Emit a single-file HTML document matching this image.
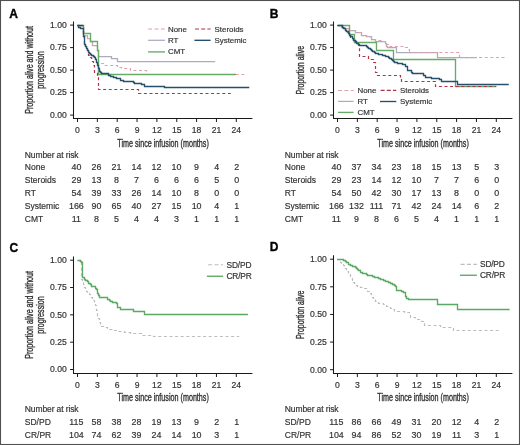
<!DOCTYPE html>
<html><head><meta charset="utf-8"><title>Figure</title>
<style>html,body{margin:0;padding:0;background:#fff;}svg{display:block;will-change:transform;}</style>
</head><body>

<svg width="520" height="445" viewBox="0 0 520 445" font-family='"Liberation Sans", sans-serif'>
<rect x="0" y="0" width="520" height="445" fill="#fff"/>
<text x="9.30" y="17.60" font-size="12" text-anchor="start" fill="#000" font-weight="bold" stroke="#000" stroke-width="0.35">A</text>
<text x="269.80" y="17.50" font-size="12" text-anchor="start" fill="#000" font-weight="bold" stroke="#000" stroke-width="0.35">B</text>
<text x="9.40" y="252.30" font-size="12" text-anchor="start" fill="#000" font-weight="bold" stroke="#000" stroke-width="0.35">C</text>
<text x="269.80" y="251.30" font-size="12" text-anchor="start" fill="#000" font-weight="bold" stroke="#000" stroke-width="0.35">D</text>
<path d="M73.50,21.50V118.50H252.40" fill="none" stroke="#1a1a1a" stroke-width="1.05"/>
<line x1="70.10" y1="25.10" x2="73.50" y2="25.10" stroke="#1a1a1a" stroke-width="1"/>
<text x="66.80" y="27.90" font-size="8.6" text-anchor="end" fill="#333" font-weight="normal" stroke="#333" stroke-width="0.18">1.00</text>
<line x1="70.10" y1="47.60" x2="73.50" y2="47.60" stroke="#1a1a1a" stroke-width="1"/>
<text x="66.80" y="50.40" font-size="8.6" text-anchor="end" fill="#333" font-weight="normal" stroke="#333" stroke-width="0.18">0.75</text>
<line x1="70.10" y1="70.10" x2="73.50" y2="70.10" stroke="#1a1a1a" stroke-width="1"/>
<text x="66.80" y="72.90" font-size="8.6" text-anchor="end" fill="#333" font-weight="normal" stroke="#333" stroke-width="0.18">0.50</text>
<line x1="70.10" y1="92.60" x2="73.50" y2="92.60" stroke="#1a1a1a" stroke-width="1"/>
<text x="66.80" y="95.40" font-size="8.6" text-anchor="end" fill="#333" font-weight="normal" stroke="#333" stroke-width="0.18">0.25</text>
<line x1="70.10" y1="115.10" x2="73.50" y2="115.10" stroke="#1a1a1a" stroke-width="1"/>
<text x="66.80" y="117.90" font-size="8.6" text-anchor="end" fill="#333" font-weight="normal" stroke="#333" stroke-width="0.18">0.00</text>
<line x1="77.50" y1="118.50" x2="77.50" y2="122.00" stroke="#1a1a1a" stroke-width="1"/>
<text x="77.50" y="132.60" font-size="8.6" text-anchor="middle" fill="#333" font-weight="normal" stroke="#333" stroke-width="0.18">0</text>
<line x1="97.35" y1="118.50" x2="97.35" y2="122.00" stroke="#1a1a1a" stroke-width="1"/>
<text x="97.35" y="132.60" font-size="8.6" text-anchor="middle" fill="#333" font-weight="normal" stroke="#333" stroke-width="0.18">3</text>
<line x1="117.20" y1="118.50" x2="117.20" y2="122.00" stroke="#1a1a1a" stroke-width="1"/>
<text x="117.20" y="132.60" font-size="8.6" text-anchor="middle" fill="#333" font-weight="normal" stroke="#333" stroke-width="0.18">6</text>
<line x1="137.05" y1="118.50" x2="137.05" y2="122.00" stroke="#1a1a1a" stroke-width="1"/>
<text x="137.05" y="132.60" font-size="8.6" text-anchor="middle" fill="#333" font-weight="normal" stroke="#333" stroke-width="0.18">9</text>
<line x1="156.90" y1="118.50" x2="156.90" y2="122.00" stroke="#1a1a1a" stroke-width="1"/>
<text x="156.90" y="132.60" font-size="8.6" text-anchor="middle" fill="#333" font-weight="normal" stroke="#333" stroke-width="0.18">12</text>
<line x1="176.75" y1="118.50" x2="176.75" y2="122.00" stroke="#1a1a1a" stroke-width="1"/>
<text x="176.75" y="132.60" font-size="8.6" text-anchor="middle" fill="#333" font-weight="normal" stroke="#333" stroke-width="0.18">15</text>
<line x1="196.60" y1="118.50" x2="196.60" y2="122.00" stroke="#1a1a1a" stroke-width="1"/>
<text x="196.60" y="132.60" font-size="8.6" text-anchor="middle" fill="#333" font-weight="normal" stroke="#333" stroke-width="0.18">18</text>
<line x1="216.45" y1="118.50" x2="216.45" y2="122.00" stroke="#1a1a1a" stroke-width="1"/>
<text x="216.45" y="132.60" font-size="8.6" text-anchor="middle" fill="#333" font-weight="normal" stroke="#333" stroke-width="0.18">21</text>
<line x1="236.30" y1="118.50" x2="236.30" y2="122.00" stroke="#1a1a1a" stroke-width="1"/>
<text x="236.30" y="132.60" font-size="8.6" text-anchor="middle" fill="#333" font-weight="normal" stroke="#333" stroke-width="0.18">24</text>
<text x="163.10" y="146.60" font-size="10.1" text-anchor="middle" fill="#333" font-weight="normal" stroke="#333" stroke-width="0.35" textLength="91.5" lengthAdjust="spacingAndGlyphs">Time since infusion (months)</text>
<text transform="translate(32.80,69.90) rotate(-90)" x="0" y="0" font-size="10.1" text-anchor="middle" fill="#333" stroke="#333" stroke-width="0.35" textLength="87.8" lengthAdjust="spacingAndGlyphs">Proportion alive and without</text>
<text transform="translate(44.30,69.90) rotate(-90)" x="0" y="0" font-size="10.1" text-anchor="middle" fill="#333" stroke="#333" stroke-width="0.35" textLength="37.5" lengthAdjust="spacingAndGlyphs">progression</text>
<path d="M333.50,21.50V118.50H512.40" fill="none" stroke="#1a1a1a" stroke-width="1.05"/>
<line x1="330.10" y1="25.10" x2="333.50" y2="25.10" stroke="#1a1a1a" stroke-width="1"/>
<text x="326.80" y="27.90" font-size="8.6" text-anchor="end" fill="#333" font-weight="normal" stroke="#333" stroke-width="0.18">1.00</text>
<line x1="330.10" y1="47.60" x2="333.50" y2="47.60" stroke="#1a1a1a" stroke-width="1"/>
<text x="326.80" y="50.40" font-size="8.6" text-anchor="end" fill="#333" font-weight="normal" stroke="#333" stroke-width="0.18">0.75</text>
<line x1="330.10" y1="70.10" x2="333.50" y2="70.10" stroke="#1a1a1a" stroke-width="1"/>
<text x="326.80" y="72.90" font-size="8.6" text-anchor="end" fill="#333" font-weight="normal" stroke="#333" stroke-width="0.18">0.50</text>
<line x1="330.10" y1="92.60" x2="333.50" y2="92.60" stroke="#1a1a1a" stroke-width="1"/>
<text x="326.80" y="95.40" font-size="8.6" text-anchor="end" fill="#333" font-weight="normal" stroke="#333" stroke-width="0.18">0.25</text>
<line x1="330.10" y1="115.10" x2="333.50" y2="115.10" stroke="#1a1a1a" stroke-width="1"/>
<text x="326.80" y="117.90" font-size="8.6" text-anchor="end" fill="#333" font-weight="normal" stroke="#333" stroke-width="0.18">0.00</text>
<line x1="337.50" y1="118.50" x2="337.50" y2="122.00" stroke="#1a1a1a" stroke-width="1"/>
<text x="337.50" y="132.60" font-size="8.6" text-anchor="middle" fill="#333" font-weight="normal" stroke="#333" stroke-width="0.18">0</text>
<line x1="357.35" y1="118.50" x2="357.35" y2="122.00" stroke="#1a1a1a" stroke-width="1"/>
<text x="357.35" y="132.60" font-size="8.6" text-anchor="middle" fill="#333" font-weight="normal" stroke="#333" stroke-width="0.18">3</text>
<line x1="377.20" y1="118.50" x2="377.20" y2="122.00" stroke="#1a1a1a" stroke-width="1"/>
<text x="377.20" y="132.60" font-size="8.6" text-anchor="middle" fill="#333" font-weight="normal" stroke="#333" stroke-width="0.18">6</text>
<line x1="397.05" y1="118.50" x2="397.05" y2="122.00" stroke="#1a1a1a" stroke-width="1"/>
<text x="397.05" y="132.60" font-size="8.6" text-anchor="middle" fill="#333" font-weight="normal" stroke="#333" stroke-width="0.18">9</text>
<line x1="416.90" y1="118.50" x2="416.90" y2="122.00" stroke="#1a1a1a" stroke-width="1"/>
<text x="416.90" y="132.60" font-size="8.6" text-anchor="middle" fill="#333" font-weight="normal" stroke="#333" stroke-width="0.18">12</text>
<line x1="436.75" y1="118.50" x2="436.75" y2="122.00" stroke="#1a1a1a" stroke-width="1"/>
<text x="436.75" y="132.60" font-size="8.6" text-anchor="middle" fill="#333" font-weight="normal" stroke="#333" stroke-width="0.18">15</text>
<line x1="456.60" y1="118.50" x2="456.60" y2="122.00" stroke="#1a1a1a" stroke-width="1"/>
<text x="456.60" y="132.60" font-size="8.6" text-anchor="middle" fill="#333" font-weight="normal" stroke="#333" stroke-width="0.18">18</text>
<line x1="476.45" y1="118.50" x2="476.45" y2="122.00" stroke="#1a1a1a" stroke-width="1"/>
<text x="476.45" y="132.60" font-size="8.6" text-anchor="middle" fill="#333" font-weight="normal" stroke="#333" stroke-width="0.18">21</text>
<line x1="496.30" y1="118.50" x2="496.30" y2="122.00" stroke="#1a1a1a" stroke-width="1"/>
<text x="496.30" y="132.60" font-size="8.6" text-anchor="middle" fill="#333" font-weight="normal" stroke="#333" stroke-width="0.18">24</text>
<text x="423.10" y="146.60" font-size="10.1" text-anchor="middle" fill="#333" font-weight="normal" stroke="#333" stroke-width="0.35" textLength="91.5" lengthAdjust="spacingAndGlyphs">Time since infusion (months)</text>
<text transform="translate(303.90,70.20) rotate(-90)" x="0" y="0" font-size="10.1" text-anchor="middle" fill="#333" stroke="#333" stroke-width="0.35" textLength="48.5" lengthAdjust="spacingAndGlyphs">Proportion alive</text>
<path d="M73.50,256.50V373.50H252.40" fill="none" stroke="#1a1a1a" stroke-width="1.05"/>
<line x1="70.10" y1="260.20" x2="73.50" y2="260.20" stroke="#1a1a1a" stroke-width="1"/>
<text x="66.80" y="263.00" font-size="8.6" text-anchor="end" fill="#333" font-weight="normal" stroke="#333" stroke-width="0.18">1.00</text>
<line x1="70.10" y1="287.52" x2="73.50" y2="287.52" stroke="#1a1a1a" stroke-width="1"/>
<text x="66.80" y="290.32" font-size="8.6" text-anchor="end" fill="#333" font-weight="normal" stroke="#333" stroke-width="0.18">0.75</text>
<line x1="70.10" y1="314.85" x2="73.50" y2="314.85" stroke="#1a1a1a" stroke-width="1"/>
<text x="66.80" y="317.65" font-size="8.6" text-anchor="end" fill="#333" font-weight="normal" stroke="#333" stroke-width="0.18">0.50</text>
<line x1="70.10" y1="342.18" x2="73.50" y2="342.18" stroke="#1a1a1a" stroke-width="1"/>
<text x="66.80" y="344.98" font-size="8.6" text-anchor="end" fill="#333" font-weight="normal" stroke="#333" stroke-width="0.18">0.25</text>
<line x1="70.10" y1="369.50" x2="73.50" y2="369.50" stroke="#1a1a1a" stroke-width="1"/>
<text x="66.80" y="372.30" font-size="8.6" text-anchor="end" fill="#333" font-weight="normal" stroke="#333" stroke-width="0.18">0.00</text>
<line x1="77.50" y1="373.50" x2="77.50" y2="377.00" stroke="#1a1a1a" stroke-width="1"/>
<text x="77.50" y="387.80" font-size="8.6" text-anchor="middle" fill="#333" font-weight="normal" stroke="#333" stroke-width="0.18">0</text>
<line x1="97.35" y1="373.50" x2="97.35" y2="377.00" stroke="#1a1a1a" stroke-width="1"/>
<text x="97.35" y="387.80" font-size="8.6" text-anchor="middle" fill="#333" font-weight="normal" stroke="#333" stroke-width="0.18">3</text>
<line x1="117.20" y1="373.50" x2="117.20" y2="377.00" stroke="#1a1a1a" stroke-width="1"/>
<text x="117.20" y="387.80" font-size="8.6" text-anchor="middle" fill="#333" font-weight="normal" stroke="#333" stroke-width="0.18">6</text>
<line x1="137.05" y1="373.50" x2="137.05" y2="377.00" stroke="#1a1a1a" stroke-width="1"/>
<text x="137.05" y="387.80" font-size="8.6" text-anchor="middle" fill="#333" font-weight="normal" stroke="#333" stroke-width="0.18">9</text>
<line x1="156.90" y1="373.50" x2="156.90" y2="377.00" stroke="#1a1a1a" stroke-width="1"/>
<text x="156.90" y="387.80" font-size="8.6" text-anchor="middle" fill="#333" font-weight="normal" stroke="#333" stroke-width="0.18">12</text>
<line x1="176.75" y1="373.50" x2="176.75" y2="377.00" stroke="#1a1a1a" stroke-width="1"/>
<text x="176.75" y="387.80" font-size="8.6" text-anchor="middle" fill="#333" font-weight="normal" stroke="#333" stroke-width="0.18">15</text>
<line x1="196.60" y1="373.50" x2="196.60" y2="377.00" stroke="#1a1a1a" stroke-width="1"/>
<text x="196.60" y="387.80" font-size="8.6" text-anchor="middle" fill="#333" font-weight="normal" stroke="#333" stroke-width="0.18">18</text>
<line x1="216.45" y1="373.50" x2="216.45" y2="377.00" stroke="#1a1a1a" stroke-width="1"/>
<text x="216.45" y="387.80" font-size="8.6" text-anchor="middle" fill="#333" font-weight="normal" stroke="#333" stroke-width="0.18">21</text>
<line x1="236.30" y1="373.50" x2="236.30" y2="377.00" stroke="#1a1a1a" stroke-width="1"/>
<text x="236.30" y="387.80" font-size="8.6" text-anchor="middle" fill="#333" font-weight="normal" stroke="#333" stroke-width="0.18">24</text>
<text x="163.10" y="401.20" font-size="10.1" text-anchor="middle" fill="#333" font-weight="normal" stroke="#333" stroke-width="0.35" textLength="91.5" lengthAdjust="spacingAndGlyphs">Time since infusion (months)</text>
<text transform="translate(32.80,314.90) rotate(-90)" x="0" y="0" font-size="10.1" text-anchor="middle" fill="#333" stroke="#333" stroke-width="0.35" textLength="87.8" lengthAdjust="spacingAndGlyphs">Proportion alive and without</text>
<text transform="translate(44.30,314.90) rotate(-90)" x="0" y="0" font-size="10.1" text-anchor="middle" fill="#333" stroke="#333" stroke-width="0.35" textLength="37.5" lengthAdjust="spacingAndGlyphs">progression</text>
<path d="M333.50,255.20V373.50H512.40" fill="none" stroke="#1a1a1a" stroke-width="1.05"/>
<line x1="330.10" y1="259.20" x2="333.50" y2="259.20" stroke="#1a1a1a" stroke-width="1"/>
<text x="326.80" y="262.00" font-size="8.6" text-anchor="end" fill="#333" font-weight="normal" stroke="#333" stroke-width="0.18">1.00</text>
<line x1="330.10" y1="286.82" x2="333.50" y2="286.82" stroke="#1a1a1a" stroke-width="1"/>
<text x="326.80" y="289.62" font-size="8.6" text-anchor="end" fill="#333" font-weight="normal" stroke="#333" stroke-width="0.18">0.75</text>
<line x1="330.10" y1="314.45" x2="333.50" y2="314.45" stroke="#1a1a1a" stroke-width="1"/>
<text x="326.80" y="317.25" font-size="8.6" text-anchor="end" fill="#333" font-weight="normal" stroke="#333" stroke-width="0.18">0.50</text>
<line x1="330.10" y1="342.07" x2="333.50" y2="342.07" stroke="#1a1a1a" stroke-width="1"/>
<text x="326.80" y="344.88" font-size="8.6" text-anchor="end" fill="#333" font-weight="normal" stroke="#333" stroke-width="0.18">0.25</text>
<line x1="330.10" y1="369.70" x2="333.50" y2="369.70" stroke="#1a1a1a" stroke-width="1"/>
<text x="326.80" y="372.50" font-size="8.6" text-anchor="end" fill="#333" font-weight="normal" stroke="#333" stroke-width="0.18">0.00</text>
<line x1="337.50" y1="373.50" x2="337.50" y2="377.00" stroke="#1a1a1a" stroke-width="1"/>
<text x="337.50" y="387.80" font-size="8.6" text-anchor="middle" fill="#333" font-weight="normal" stroke="#333" stroke-width="0.18">0</text>
<line x1="357.35" y1="373.50" x2="357.35" y2="377.00" stroke="#1a1a1a" stroke-width="1"/>
<text x="357.35" y="387.80" font-size="8.6" text-anchor="middle" fill="#333" font-weight="normal" stroke="#333" stroke-width="0.18">3</text>
<line x1="377.20" y1="373.50" x2="377.20" y2="377.00" stroke="#1a1a1a" stroke-width="1"/>
<text x="377.20" y="387.80" font-size="8.6" text-anchor="middle" fill="#333" font-weight="normal" stroke="#333" stroke-width="0.18">6</text>
<line x1="397.05" y1="373.50" x2="397.05" y2="377.00" stroke="#1a1a1a" stroke-width="1"/>
<text x="397.05" y="387.80" font-size="8.6" text-anchor="middle" fill="#333" font-weight="normal" stroke="#333" stroke-width="0.18">9</text>
<line x1="416.90" y1="373.50" x2="416.90" y2="377.00" stroke="#1a1a1a" stroke-width="1"/>
<text x="416.90" y="387.80" font-size="8.6" text-anchor="middle" fill="#333" font-weight="normal" stroke="#333" stroke-width="0.18">12</text>
<line x1="436.75" y1="373.50" x2="436.75" y2="377.00" stroke="#1a1a1a" stroke-width="1"/>
<text x="436.75" y="387.80" font-size="8.6" text-anchor="middle" fill="#333" font-weight="normal" stroke="#333" stroke-width="0.18">15</text>
<line x1="456.60" y1="373.50" x2="456.60" y2="377.00" stroke="#1a1a1a" stroke-width="1"/>
<text x="456.60" y="387.80" font-size="8.6" text-anchor="middle" fill="#333" font-weight="normal" stroke="#333" stroke-width="0.18">18</text>
<line x1="476.45" y1="373.50" x2="476.45" y2="377.00" stroke="#1a1a1a" stroke-width="1"/>
<text x="476.45" y="387.80" font-size="8.6" text-anchor="middle" fill="#333" font-weight="normal" stroke="#333" stroke-width="0.18">21</text>
<line x1="496.30" y1="373.50" x2="496.30" y2="377.00" stroke="#1a1a1a" stroke-width="1"/>
<text x="496.30" y="387.80" font-size="8.6" text-anchor="middle" fill="#333" font-weight="normal" stroke="#333" stroke-width="0.18">24</text>
<text x="423.10" y="401.20" font-size="10.1" text-anchor="middle" fill="#333" font-weight="normal" stroke="#333" stroke-width="0.35" textLength="91.5" lengthAdjust="spacingAndGlyphs">Time since infusion (months)</text>
<text transform="translate(303.90,314.80) rotate(-90)" x="0" y="0" font-size="10.1" text-anchor="middle" fill="#333" stroke="#333" stroke-width="0.35" textLength="48.5" lengthAdjust="spacingAndGlyphs">Proportion alive</text>
<text x="24.80" y="157.50" font-size="8.5" text-anchor="start" fill="#333" font-weight="normal" stroke="#333" stroke-width="0.18" textLength="53.8" lengthAdjust="spacing">Number at risk</text>
<text x="24.80" y="170.35" font-size="8.5" text-anchor="start" fill="#333" font-weight="normal" stroke="#333" stroke-width="0.18">None</text>
<text x="76.40" y="170.35" font-size="8.9" text-anchor="middle" fill="#333" font-weight="normal" stroke="#333" stroke-width="0.18">40</text>
<text x="96.43" y="170.35" font-size="8.9" text-anchor="middle" fill="#333" font-weight="normal" stroke="#333" stroke-width="0.18">26</text>
<text x="116.46" y="170.35" font-size="8.9" text-anchor="middle" fill="#333" font-weight="normal" stroke="#333" stroke-width="0.18">21</text>
<text x="136.49" y="170.35" font-size="8.9" text-anchor="middle" fill="#333" font-weight="normal" stroke="#333" stroke-width="0.18">14</text>
<text x="156.52" y="170.35" font-size="8.9" text-anchor="middle" fill="#333" font-weight="normal" stroke="#333" stroke-width="0.18">12</text>
<text x="176.55" y="170.35" font-size="8.9" text-anchor="middle" fill="#333" font-weight="normal" stroke="#333" stroke-width="0.18">10</text>
<text x="196.58" y="170.35" font-size="8.9" text-anchor="middle" fill="#333" font-weight="normal" stroke="#333" stroke-width="0.18">9</text>
<text x="216.61" y="170.35" font-size="8.9" text-anchor="middle" fill="#333" font-weight="normal" stroke="#333" stroke-width="0.18">4</text>
<text x="236.64" y="170.35" font-size="8.9" text-anchor="middle" fill="#333" font-weight="normal" stroke="#333" stroke-width="0.18">2</text>
<text x="24.80" y="183.20" font-size="8.5" text-anchor="start" fill="#333" font-weight="normal" stroke="#333" stroke-width="0.18">Steroids</text>
<text x="76.40" y="183.20" font-size="8.9" text-anchor="middle" fill="#333" font-weight="normal" stroke="#333" stroke-width="0.18">29</text>
<text x="96.43" y="183.20" font-size="8.9" text-anchor="middle" fill="#333" font-weight="normal" stroke="#333" stroke-width="0.18">13</text>
<text x="116.46" y="183.20" font-size="8.9" text-anchor="middle" fill="#333" font-weight="normal" stroke="#333" stroke-width="0.18">8</text>
<text x="136.49" y="183.20" font-size="8.9" text-anchor="middle" fill="#333" font-weight="normal" stroke="#333" stroke-width="0.18">7</text>
<text x="156.52" y="183.20" font-size="8.9" text-anchor="middle" fill="#333" font-weight="normal" stroke="#333" stroke-width="0.18">6</text>
<text x="176.55" y="183.20" font-size="8.9" text-anchor="middle" fill="#333" font-weight="normal" stroke="#333" stroke-width="0.18">6</text>
<text x="196.58" y="183.20" font-size="8.9" text-anchor="middle" fill="#333" font-weight="normal" stroke="#333" stroke-width="0.18">6</text>
<text x="216.61" y="183.20" font-size="8.9" text-anchor="middle" fill="#333" font-weight="normal" stroke="#333" stroke-width="0.18">5</text>
<text x="236.64" y="183.20" font-size="8.9" text-anchor="middle" fill="#333" font-weight="normal" stroke="#333" stroke-width="0.18">0</text>
<text x="24.80" y="196.05" font-size="8.5" text-anchor="start" fill="#333" font-weight="normal" stroke="#333" stroke-width="0.18">RT</text>
<text x="76.40" y="196.05" font-size="8.9" text-anchor="middle" fill="#333" font-weight="normal" stroke="#333" stroke-width="0.18">54</text>
<text x="96.43" y="196.05" font-size="8.9" text-anchor="middle" fill="#333" font-weight="normal" stroke="#333" stroke-width="0.18">39</text>
<text x="116.46" y="196.05" font-size="8.9" text-anchor="middle" fill="#333" font-weight="normal" stroke="#333" stroke-width="0.18">33</text>
<text x="136.49" y="196.05" font-size="8.9" text-anchor="middle" fill="#333" font-weight="normal" stroke="#333" stroke-width="0.18">26</text>
<text x="156.52" y="196.05" font-size="8.9" text-anchor="middle" fill="#333" font-weight="normal" stroke="#333" stroke-width="0.18">14</text>
<text x="176.55" y="196.05" font-size="8.9" text-anchor="middle" fill="#333" font-weight="normal" stroke="#333" stroke-width="0.18">10</text>
<text x="196.58" y="196.05" font-size="8.9" text-anchor="middle" fill="#333" font-weight="normal" stroke="#333" stroke-width="0.18">8</text>
<text x="216.61" y="196.05" font-size="8.9" text-anchor="middle" fill="#333" font-weight="normal" stroke="#333" stroke-width="0.18">0</text>
<text x="236.64" y="196.05" font-size="8.9" text-anchor="middle" fill="#333" font-weight="normal" stroke="#333" stroke-width="0.18">0</text>
<text x="24.80" y="208.90" font-size="8.5" text-anchor="start" fill="#333" font-weight="normal" stroke="#333" stroke-width="0.18">Systemic</text>
<text x="76.40" y="208.90" font-size="8.9" text-anchor="middle" fill="#333" font-weight="normal" stroke="#333" stroke-width="0.18">166</text>
<text x="96.43" y="208.90" font-size="8.9" text-anchor="middle" fill="#333" font-weight="normal" stroke="#333" stroke-width="0.18">90</text>
<text x="116.46" y="208.90" font-size="8.9" text-anchor="middle" fill="#333" font-weight="normal" stroke="#333" stroke-width="0.18">65</text>
<text x="136.49" y="208.90" font-size="8.9" text-anchor="middle" fill="#333" font-weight="normal" stroke="#333" stroke-width="0.18">40</text>
<text x="156.52" y="208.90" font-size="8.9" text-anchor="middle" fill="#333" font-weight="normal" stroke="#333" stroke-width="0.18">27</text>
<text x="176.55" y="208.90" font-size="8.9" text-anchor="middle" fill="#333" font-weight="normal" stroke="#333" stroke-width="0.18">15</text>
<text x="196.58" y="208.90" font-size="8.9" text-anchor="middle" fill="#333" font-weight="normal" stroke="#333" stroke-width="0.18">10</text>
<text x="216.61" y="208.90" font-size="8.9" text-anchor="middle" fill="#333" font-weight="normal" stroke="#333" stroke-width="0.18">4</text>
<text x="236.64" y="208.90" font-size="8.9" text-anchor="middle" fill="#333" font-weight="normal" stroke="#333" stroke-width="0.18">1</text>
<text x="24.80" y="221.75" font-size="8.5" text-anchor="start" fill="#333" font-weight="normal" stroke="#333" stroke-width="0.18">CMT</text>
<text x="76.40" y="221.75" font-size="8.9" text-anchor="middle" fill="#333" font-weight="normal" stroke="#333" stroke-width="0.18">11</text>
<text x="96.43" y="221.75" font-size="8.9" text-anchor="middle" fill="#333" font-weight="normal" stroke="#333" stroke-width="0.18">8</text>
<text x="116.46" y="221.75" font-size="8.9" text-anchor="middle" fill="#333" font-weight="normal" stroke="#333" stroke-width="0.18">5</text>
<text x="136.49" y="221.75" font-size="8.9" text-anchor="middle" fill="#333" font-weight="normal" stroke="#333" stroke-width="0.18">4</text>
<text x="156.52" y="221.75" font-size="8.9" text-anchor="middle" fill="#333" font-weight="normal" stroke="#333" stroke-width="0.18">4</text>
<text x="176.55" y="221.75" font-size="8.9" text-anchor="middle" fill="#333" font-weight="normal" stroke="#333" stroke-width="0.18">3</text>
<text x="196.58" y="221.75" font-size="8.9" text-anchor="middle" fill="#333" font-weight="normal" stroke="#333" stroke-width="0.18">1</text>
<text x="216.61" y="221.75" font-size="8.9" text-anchor="middle" fill="#333" font-weight="normal" stroke="#333" stroke-width="0.18">1</text>
<text x="236.64" y="221.75" font-size="8.9" text-anchor="middle" fill="#333" font-weight="normal" stroke="#333" stroke-width="0.18">1</text>
<text x="284.80" y="157.50" font-size="8.5" text-anchor="start" fill="#333" font-weight="normal" stroke="#333" stroke-width="0.18" textLength="53.8" lengthAdjust="spacing">Number at risk</text>
<text x="284.80" y="170.35" font-size="8.5" text-anchor="start" fill="#333" font-weight="normal" stroke="#333" stroke-width="0.18">None</text>
<text x="336.40" y="170.35" font-size="8.9" text-anchor="middle" fill="#333" font-weight="normal" stroke="#333" stroke-width="0.18">40</text>
<text x="356.43" y="170.35" font-size="8.9" text-anchor="middle" fill="#333" font-weight="normal" stroke="#333" stroke-width="0.18">37</text>
<text x="376.46" y="170.35" font-size="8.9" text-anchor="middle" fill="#333" font-weight="normal" stroke="#333" stroke-width="0.18">34</text>
<text x="396.49" y="170.35" font-size="8.9" text-anchor="middle" fill="#333" font-weight="normal" stroke="#333" stroke-width="0.18">23</text>
<text x="416.52" y="170.35" font-size="8.9" text-anchor="middle" fill="#333" font-weight="normal" stroke="#333" stroke-width="0.18">18</text>
<text x="436.55" y="170.35" font-size="8.9" text-anchor="middle" fill="#333" font-weight="normal" stroke="#333" stroke-width="0.18">15</text>
<text x="456.58" y="170.35" font-size="8.9" text-anchor="middle" fill="#333" font-weight="normal" stroke="#333" stroke-width="0.18">13</text>
<text x="476.61" y="170.35" font-size="8.9" text-anchor="middle" fill="#333" font-weight="normal" stroke="#333" stroke-width="0.18">5</text>
<text x="496.64" y="170.35" font-size="8.9" text-anchor="middle" fill="#333" font-weight="normal" stroke="#333" stroke-width="0.18">3</text>
<text x="284.80" y="183.20" font-size="8.5" text-anchor="start" fill="#333" font-weight="normal" stroke="#333" stroke-width="0.18">Steroids</text>
<text x="336.40" y="183.20" font-size="8.9" text-anchor="middle" fill="#333" font-weight="normal" stroke="#333" stroke-width="0.18">29</text>
<text x="356.43" y="183.20" font-size="8.9" text-anchor="middle" fill="#333" font-weight="normal" stroke="#333" stroke-width="0.18">23</text>
<text x="376.46" y="183.20" font-size="8.9" text-anchor="middle" fill="#333" font-weight="normal" stroke="#333" stroke-width="0.18">14</text>
<text x="396.49" y="183.20" font-size="8.9" text-anchor="middle" fill="#333" font-weight="normal" stroke="#333" stroke-width="0.18">12</text>
<text x="416.52" y="183.20" font-size="8.9" text-anchor="middle" fill="#333" font-weight="normal" stroke="#333" stroke-width="0.18">10</text>
<text x="436.55" y="183.20" font-size="8.9" text-anchor="middle" fill="#333" font-weight="normal" stroke="#333" stroke-width="0.18">7</text>
<text x="456.58" y="183.20" font-size="8.9" text-anchor="middle" fill="#333" font-weight="normal" stroke="#333" stroke-width="0.18">7</text>
<text x="476.61" y="183.20" font-size="8.9" text-anchor="middle" fill="#333" font-weight="normal" stroke="#333" stroke-width="0.18">6</text>
<text x="496.64" y="183.20" font-size="8.9" text-anchor="middle" fill="#333" font-weight="normal" stroke="#333" stroke-width="0.18">0</text>
<text x="284.80" y="196.05" font-size="8.5" text-anchor="start" fill="#333" font-weight="normal" stroke="#333" stroke-width="0.18">RT</text>
<text x="336.40" y="196.05" font-size="8.9" text-anchor="middle" fill="#333" font-weight="normal" stroke="#333" stroke-width="0.18">54</text>
<text x="356.43" y="196.05" font-size="8.9" text-anchor="middle" fill="#333" font-weight="normal" stroke="#333" stroke-width="0.18">50</text>
<text x="376.46" y="196.05" font-size="8.9" text-anchor="middle" fill="#333" font-weight="normal" stroke="#333" stroke-width="0.18">42</text>
<text x="396.49" y="196.05" font-size="8.9" text-anchor="middle" fill="#333" font-weight="normal" stroke="#333" stroke-width="0.18">30</text>
<text x="416.52" y="196.05" font-size="8.9" text-anchor="middle" fill="#333" font-weight="normal" stroke="#333" stroke-width="0.18">17</text>
<text x="436.55" y="196.05" font-size="8.9" text-anchor="middle" fill="#333" font-weight="normal" stroke="#333" stroke-width="0.18">13</text>
<text x="456.58" y="196.05" font-size="8.9" text-anchor="middle" fill="#333" font-weight="normal" stroke="#333" stroke-width="0.18">8</text>
<text x="476.61" y="196.05" font-size="8.9" text-anchor="middle" fill="#333" font-weight="normal" stroke="#333" stroke-width="0.18">0</text>
<text x="496.64" y="196.05" font-size="8.9" text-anchor="middle" fill="#333" font-weight="normal" stroke="#333" stroke-width="0.18">0</text>
<text x="284.80" y="208.90" font-size="8.5" text-anchor="start" fill="#333" font-weight="normal" stroke="#333" stroke-width="0.18">Systemic</text>
<text x="336.40" y="208.90" font-size="8.9" text-anchor="middle" fill="#333" font-weight="normal" stroke="#333" stroke-width="0.18">166</text>
<text x="356.43" y="208.90" font-size="8.9" text-anchor="middle" fill="#333" font-weight="normal" stroke="#333" stroke-width="0.18">132</text>
<text x="376.46" y="208.90" font-size="8.9" text-anchor="middle" fill="#333" font-weight="normal" stroke="#333" stroke-width="0.18">111</text>
<text x="396.49" y="208.90" font-size="8.9" text-anchor="middle" fill="#333" font-weight="normal" stroke="#333" stroke-width="0.18">71</text>
<text x="416.52" y="208.90" font-size="8.9" text-anchor="middle" fill="#333" font-weight="normal" stroke="#333" stroke-width="0.18">42</text>
<text x="436.55" y="208.90" font-size="8.9" text-anchor="middle" fill="#333" font-weight="normal" stroke="#333" stroke-width="0.18">24</text>
<text x="456.58" y="208.90" font-size="8.9" text-anchor="middle" fill="#333" font-weight="normal" stroke="#333" stroke-width="0.18">14</text>
<text x="476.61" y="208.90" font-size="8.9" text-anchor="middle" fill="#333" font-weight="normal" stroke="#333" stroke-width="0.18">6</text>
<text x="496.64" y="208.90" font-size="8.9" text-anchor="middle" fill="#333" font-weight="normal" stroke="#333" stroke-width="0.18">2</text>
<text x="284.80" y="221.75" font-size="8.5" text-anchor="start" fill="#333" font-weight="normal" stroke="#333" stroke-width="0.18">CMT</text>
<text x="336.40" y="221.75" font-size="8.9" text-anchor="middle" fill="#333" font-weight="normal" stroke="#333" stroke-width="0.18">11</text>
<text x="356.43" y="221.75" font-size="8.9" text-anchor="middle" fill="#333" font-weight="normal" stroke="#333" stroke-width="0.18">9</text>
<text x="376.46" y="221.75" font-size="8.9" text-anchor="middle" fill="#333" font-weight="normal" stroke="#333" stroke-width="0.18">8</text>
<text x="396.49" y="221.75" font-size="8.9" text-anchor="middle" fill="#333" font-weight="normal" stroke="#333" stroke-width="0.18">6</text>
<text x="416.52" y="221.75" font-size="8.9" text-anchor="middle" fill="#333" font-weight="normal" stroke="#333" stroke-width="0.18">5</text>
<text x="436.55" y="221.75" font-size="8.9" text-anchor="middle" fill="#333" font-weight="normal" stroke="#333" stroke-width="0.18">4</text>
<text x="456.58" y="221.75" font-size="8.9" text-anchor="middle" fill="#333" font-weight="normal" stroke="#333" stroke-width="0.18">1</text>
<text x="476.61" y="221.75" font-size="8.9" text-anchor="middle" fill="#333" font-weight="normal" stroke="#333" stroke-width="0.18">1</text>
<text x="496.64" y="221.75" font-size="8.9" text-anchor="middle" fill="#333" font-weight="normal" stroke="#333" stroke-width="0.18">1</text>
<text x="24.80" y="411.80" font-size="8.5" text-anchor="start" fill="#333" font-weight="normal" stroke="#333" stroke-width="0.18" textLength="53.8" lengthAdjust="spacing">Number at risk</text>
<text x="24.80" y="424.65" font-size="8.5" text-anchor="start" fill="#333" font-weight="normal" stroke="#333" stroke-width="0.18">SD/PD</text>
<text x="76.40" y="424.65" font-size="8.9" text-anchor="middle" fill="#333" font-weight="normal" stroke="#333" stroke-width="0.18">115</text>
<text x="96.43" y="424.65" font-size="8.9" text-anchor="middle" fill="#333" font-weight="normal" stroke="#333" stroke-width="0.18">58</text>
<text x="116.46" y="424.65" font-size="8.9" text-anchor="middle" fill="#333" font-weight="normal" stroke="#333" stroke-width="0.18">38</text>
<text x="136.49" y="424.65" font-size="8.9" text-anchor="middle" fill="#333" font-weight="normal" stroke="#333" stroke-width="0.18">28</text>
<text x="156.52" y="424.65" font-size="8.9" text-anchor="middle" fill="#333" font-weight="normal" stroke="#333" stroke-width="0.18">19</text>
<text x="176.55" y="424.65" font-size="8.9" text-anchor="middle" fill="#333" font-weight="normal" stroke="#333" stroke-width="0.18">13</text>
<text x="196.58" y="424.65" font-size="8.9" text-anchor="middle" fill="#333" font-weight="normal" stroke="#333" stroke-width="0.18">9</text>
<text x="216.61" y="424.65" font-size="8.9" text-anchor="middle" fill="#333" font-weight="normal" stroke="#333" stroke-width="0.18">2</text>
<text x="236.64" y="424.65" font-size="8.9" text-anchor="middle" fill="#333" font-weight="normal" stroke="#333" stroke-width="0.18">1</text>
<text x="24.80" y="437.50" font-size="8.5" text-anchor="start" fill="#333" font-weight="normal" stroke="#333" stroke-width="0.18">CR/PR</text>
<text x="76.40" y="437.50" font-size="8.9" text-anchor="middle" fill="#333" font-weight="normal" stroke="#333" stroke-width="0.18">104</text>
<text x="96.43" y="437.50" font-size="8.9" text-anchor="middle" fill="#333" font-weight="normal" stroke="#333" stroke-width="0.18">74</text>
<text x="116.46" y="437.50" font-size="8.9" text-anchor="middle" fill="#333" font-weight="normal" stroke="#333" stroke-width="0.18">62</text>
<text x="136.49" y="437.50" font-size="8.9" text-anchor="middle" fill="#333" font-weight="normal" stroke="#333" stroke-width="0.18">39</text>
<text x="156.52" y="437.50" font-size="8.9" text-anchor="middle" fill="#333" font-weight="normal" stroke="#333" stroke-width="0.18">24</text>
<text x="176.55" y="437.50" font-size="8.9" text-anchor="middle" fill="#333" font-weight="normal" stroke="#333" stroke-width="0.18">14</text>
<text x="196.58" y="437.50" font-size="8.9" text-anchor="middle" fill="#333" font-weight="normal" stroke="#333" stroke-width="0.18">10</text>
<text x="216.61" y="437.50" font-size="8.9" text-anchor="middle" fill="#333" font-weight="normal" stroke="#333" stroke-width="0.18">3</text>
<text x="236.64" y="437.50" font-size="8.9" text-anchor="middle" fill="#333" font-weight="normal" stroke="#333" stroke-width="0.18">1</text>
<text x="284.80" y="411.80" font-size="8.5" text-anchor="start" fill="#333" font-weight="normal" stroke="#333" stroke-width="0.18" textLength="53.8" lengthAdjust="spacing">Number at risk</text>
<text x="284.80" y="424.65" font-size="8.5" text-anchor="start" fill="#333" font-weight="normal" stroke="#333" stroke-width="0.18">SD/PD</text>
<text x="336.40" y="424.65" font-size="8.9" text-anchor="middle" fill="#333" font-weight="normal" stroke="#333" stroke-width="0.18">115</text>
<text x="356.43" y="424.65" font-size="8.9" text-anchor="middle" fill="#333" font-weight="normal" stroke="#333" stroke-width="0.18">86</text>
<text x="376.46" y="424.65" font-size="8.9" text-anchor="middle" fill="#333" font-weight="normal" stroke="#333" stroke-width="0.18">66</text>
<text x="396.49" y="424.65" font-size="8.9" text-anchor="middle" fill="#333" font-weight="normal" stroke="#333" stroke-width="0.18">49</text>
<text x="416.52" y="424.65" font-size="8.9" text-anchor="middle" fill="#333" font-weight="normal" stroke="#333" stroke-width="0.18">31</text>
<text x="436.55" y="424.65" font-size="8.9" text-anchor="middle" fill="#333" font-weight="normal" stroke="#333" stroke-width="0.18">20</text>
<text x="456.58" y="424.65" font-size="8.9" text-anchor="middle" fill="#333" font-weight="normal" stroke="#333" stroke-width="0.18">12</text>
<text x="476.61" y="424.65" font-size="8.9" text-anchor="middle" fill="#333" font-weight="normal" stroke="#333" stroke-width="0.18">4</text>
<text x="496.64" y="424.65" font-size="8.9" text-anchor="middle" fill="#333" font-weight="normal" stroke="#333" stroke-width="0.18">2</text>
<text x="284.80" y="437.50" font-size="8.5" text-anchor="start" fill="#333" font-weight="normal" stroke="#333" stroke-width="0.18">CR/PR</text>
<text x="336.40" y="437.50" font-size="8.9" text-anchor="middle" fill="#333" font-weight="normal" stroke="#333" stroke-width="0.18">104</text>
<text x="356.43" y="437.50" font-size="8.9" text-anchor="middle" fill="#333" font-weight="normal" stroke="#333" stroke-width="0.18">94</text>
<text x="376.46" y="437.50" font-size="8.9" text-anchor="middle" fill="#333" font-weight="normal" stroke="#333" stroke-width="0.18">86</text>
<text x="396.49" y="437.50" font-size="8.9" text-anchor="middle" fill="#333" font-weight="normal" stroke="#333" stroke-width="0.18">52</text>
<text x="416.52" y="437.50" font-size="8.9" text-anchor="middle" fill="#333" font-weight="normal" stroke="#333" stroke-width="0.18">30</text>
<text x="436.55" y="437.50" font-size="8.9" text-anchor="middle" fill="#333" font-weight="normal" stroke="#333" stroke-width="0.18">19</text>
<text x="456.58" y="437.50" font-size="8.9" text-anchor="middle" fill="#333" font-weight="normal" stroke="#333" stroke-width="0.18">11</text>
<text x="476.61" y="437.50" font-size="8.9" text-anchor="middle" fill="#333" font-weight="normal" stroke="#333" stroke-width="0.18">3</text>
<text x="496.64" y="437.50" font-size="8.9" text-anchor="middle" fill="#333" font-weight="normal" stroke="#333" stroke-width="0.18">1</text>
<path d="M77.50,25.50H83.50V35.50H87.50V38.50H90.50V41.50H92.50V45.50H97.50V50.50H98.50V56.50H111.50V58.50H117.50V61.50H215.20" fill="none" stroke="#abadbf" stroke-width="1.25" stroke-linejoin="miter"/>
<path d="M77.50,25.50H83.50V35.50H87.50V38.50H90.50V41.50H92.50V45.50H97.50V50.50H98.50V63.50H104.50V65.50H117.50V67.50H121.50V68.50H130.50V70.50H146.50V74.50H246.30" fill="none" stroke="#e2a0aa" stroke-width="1.2" stroke-dasharray="3 2.6" stroke-linejoin="miter"/>
<path d="M77.50,25.50H83.50V33.50H90.50V41.50H97.50V50.50H98.50V74.50H236.00" fill="none" stroke="#66ab66" stroke-width="1.35" stroke-linejoin="miter"/>
<path d="M77.50,25.50H78.50V27.50H80.50V28.50H83.50V31.50H83.50V36.50H84.50V40.50H84.50V44.50H85.50V46.50H86.50V48.50H87.50V50.50H88.50V53.50H88.50V55.50H90.50V57.50H91.50V58.50H92.50V61.50H93.50V65.50H94.50V68.50H94.50V72.50H97.50V75.50H98.50V89.50H138.50V93.50H232.50" fill="none" stroke="#b3304a" stroke-width="1.2" stroke-dasharray="3 2.6" stroke-linejoin="miter"/>
<path d="M77.5,25.5H83.4" stroke="#2b3f3f" stroke-width="1.3" fill="none"/>
<path d="M77.50,25.50H78.50V27.50H80.50V28.50H83.50V31.50H83.50V36.50H84.50V40.50H84.50V44.50H85.50V46.50H86.50V48.50H87.50V50.50H88.50V52.50H89.50V53.50H90.50V54.50H91.50V55.50H93.50V56.50H94.50V57.50H95.50V59.50H96.50V62.50H97.50V65.50H98.50V68.50H99.50V71.50H100.50V72.50H101.50V73.50H106.50V73.50H108.50V75.50H110.50V76.50H113.50V77.50H116.50V78.50H120.50V80.50H123.50V81.50H128.50V81.50H133.50V82.50H134.50V83.50H141.50V84.50H144.50V86.50H152.50V86.50H164.50V87.50H249.30" fill="none" stroke="#24506e" stroke-width="1.35" stroke-linejoin="miter"/>
<path d="M337.50,25.50H341.50V27.50H344.50V28.50H349.50V30.50H355.50V32.50H361.50V35.50H366.50V36.50H371.50V39.50H375.50V41.50H385.50V43.50H386.50V46.50H387.50V47.50H396.50V52.50H437.50V57.50H476.90" fill="none" stroke="#abadbf" stroke-width="1.25" stroke-linejoin="miter"/>
<path d="M337.50,25.50H341.50V27.50H344.50V28.50H349.50V30.50H355.50V32.50H361.50V35.50H366.50V36.50H371.50V39.50H375.50V40.50H381.50V41.50H386.50V44.50H388.50V46.50H405.50V47.50H407.50V49.50H409.50V52.50H459.50V57.50H506.25" fill="none" stroke="#e2a0aa" stroke-width="1.2" stroke-dasharray="3 2.6" stroke-linejoin="miter"/>
<path d="M337.50,25.50H349.50V34.50H354.50V42.50H376.50V50.50H393.50V59.50H455.50V86.50H496.25" fill="none" stroke="#66ab66" stroke-width="1.35" stroke-linejoin="miter"/>
<path d="M337.50,25.50H342.50V27.50H343.50V28.50H345.50V30.50H346.50V32.50H348.50V33.50H349.50V35.50H350.50V37.50H352.50V38.50H353.50V40.50H355.50V42.50H356.50V43.50H358.50V45.50H359.50V56.50H368.50V59.50H373.50V62.50H375.50V72.50H377.50V75.50H400.50V78.50H401.50V81.50H435.50V86.50H496.25" fill="none" stroke="#b3304a" stroke-width="1.2" stroke-dasharray="3 2.6" stroke-linejoin="miter"/>
<path d="M337.50,25.50H342.50V27.50H343.50V28.50H345.50V30.50H346.50V31.50H348.50V33.50H349.50V35.50H350.50V36.50H352.50V38.50H353.50V40.50H355.50V41.50H356.50V43.50H358.50V44.50H359.50V45.50H366.50V46.50H367.50V47.50H368.50V48.50H370.50V49.50H371.50V50.50H372.50V51.50H374.50V52.50H375.50V53.50H378.50V54.50H382.50V55.50H384.50V55.50H385.50V56.50H388.50V57.50H389.50V58.50H391.50V59.50H392.50V60.50H393.50V61.50H394.50V62.50H397.50V63.50H402.50V64.50H405.50V66.50H407.50V70.50H411.50V72.50H412.50V73.50H417.50V73.50H423.50V75.50H425.50V77.50H431.50V78.50H439.50V79.50H441.50V81.50H456.50V81.50H457.50V84.50H508.75" fill="none" stroke="#24506e" stroke-width="1.35" stroke-linejoin="miter"/>
<path d="M77.50,260.50H79.50V261.50H81.50V264.50H81.50V279.50H82.50V282.50H83.50V284.50H84.50V287.50H85.50V289.50H86.50V291.50H87.50V293.50H89.50V294.50H90.50V295.50H91.50V297.50H92.50V299.50H93.50V300.50H94.50V302.50H95.50V305.50H96.50V307.50H96.50V310.50H97.50V315.50H97.50V318.50H99.50V322.50H100.50V325.50H101.50V326.50H104.50V327.50H107.50V329.50H114.50V330.50H118.50V331.50H124.50V332.50H130.50V333.50H135.50V333.50H141.50V335.50H149.50V335.50H153.50V336.50H239.20" fill="none" stroke="#bdbdbd" stroke-width="1.2" stroke-dasharray="3 2.6" stroke-linejoin="miter"/>
<path d="M77.50,260.50H80.50V261.50H81.50V262.50H82.50V277.50H84.50V279.50H85.50V280.50H87.50V281.50H88.50V283.50H90.50V284.50H91.50V286.50H94.50V286.50H95.50V288.50H96.50V289.50H97.50V291.50H97.50V293.50H98.50V295.50H99.50V297.50H107.50V299.50H109.50V300.50H110.50V301.50H112.50V302.50H116.50V303.50H117.50V307.50H120.50V309.50H133.50V311.50H144.50V314.50H247.90" fill="none" stroke="#5aa862" stroke-width="1.35" stroke-linejoin="miter"/>
<path d="M337.10,259.50H339.50V261.50H340.50V262.50H341.50V264.50H343.50V265.50H344.50V266.50H345.50V268.50H346.50V270.50H347.50V271.50H348.50V273.50H349.50V274.50H350.50V276.50H351.50V278.50H352.50V280.50H353.50V282.50H354.50V283.50H355.50V285.50H357.50V286.50H360.50V287.50H362.50V288.50H365.50V288.50H367.50V291.50H369.50V292.50H370.50V293.50H371.50V295.50H372.50V297.50H373.50V299.50H375.50V301.50H377.50V302.50H378.50V303.50H383.50V304.50H385.50V305.50H386.50V306.50H388.50V307.50H390.50V308.50H392.50V309.50H394.50V311.50H399.50V311.50H404.50V312.50H409.50V313.50H410.50V317.50H415.50V319.50H419.50V320.50H421.50V321.50H423.50V322.50H424.50V325.50H440.50V327.50H453.50V330.50H498.60" fill="none" stroke="#bdbdbd" stroke-width="1.2" stroke-dasharray="3 2.6" stroke-linejoin="miter"/>
<path d="M337.10,259.50H341.50V259.50H343.50V260.50H344.50V260.50H345.50V261.50H346.50V262.50H348.50V264.50H349.50V264.50H350.50V265.50H352.50V266.50H353.50V266.50H355.50V267.50H356.50V268.50H357.50V269.50H358.50V270.50H360.50V272.50H362.50V273.50H364.50V273.50H366.50V274.50H367.50V275.50H369.50V275.50H371.50V275.50H372.50V276.50H374.50V277.50H376.50V277.50H378.50V278.50H380.50V279.50H383.50V280.50H385.50V281.50H388.50V282.50H390.50V283.50H392.50V284.50H394.50V285.50H395.50V286.50H396.50V290.50H401.50V291.50H403.50V292.50H405.50V296.50H406.50V298.50H408.50V299.50H437.50V304.50H457.50V309.50H509.60" fill="none" stroke="#5aa862" stroke-width="1.35" stroke-linejoin="miter"/>
<line x1="148.1" y1="29.0" x2="165" y2="29.0" stroke="#e2a0aa" stroke-width="1.2" stroke-dasharray="4 2.4"/>
<text x="168.00" y="31.90" font-size="7.9" text-anchor="start" fill="#333" font-weight="normal" stroke="#333" stroke-width="0.18">None</text>
<line x1="195.0" y1="29.0" x2="210.6" y2="29.0" stroke="#b3304a" stroke-width="1.2" stroke-dasharray="4 2.2"/>
<text x="214.60" y="31.90" font-size="7.9" text-anchor="start" fill="#333" font-weight="normal" stroke="#333" stroke-width="0.18">Steroids</text>
<line x1="148.1" y1="40.3" x2="165" y2="40.3" stroke="#abadbf" stroke-width="1.25"/>
<text x="168.00" y="42.90" font-size="7.9" text-anchor="start" fill="#333" font-weight="normal" stroke="#333" stroke-width="0.18">RT</text>
<line x1="194.4" y1="40.3" x2="210.6" y2="40.3" stroke="#24506e" stroke-width="1.35"/>
<text x="214.50" y="42.90" font-size="7.9" text-anchor="start" fill="#333" font-weight="normal" stroke="#333" stroke-width="0.18">Systemic</text>
<line x1="148.1" y1="51.9" x2="165" y2="51.9" stroke="#66ab66" stroke-width="1.35"/>
<text x="168.00" y="54.10" font-size="7.9" text-anchor="start" fill="#333" font-weight="normal" stroke="#333" stroke-width="0.18">CMT</text>
<line x1="338.0" y1="90.5" x2="353.6" y2="90.5" stroke="#e2a0aa" stroke-width="1.2" stroke-dasharray="4 2.4"/>
<text x="357.50" y="93.00" font-size="7.9" text-anchor="start" fill="#333" font-weight="normal" stroke="#333" stroke-width="0.18">None</text>
<line x1="380.6" y1="90.3" x2="396.3" y2="90.3" stroke="#b3304a" stroke-width="1.2" stroke-dasharray="4 2.2"/>
<text x="400.10" y="93.00" font-size="7.9" text-anchor="start" fill="#333" font-weight="normal" stroke="#333" stroke-width="0.18">Steroids</text>
<line x1="338.0" y1="101.4" x2="353.6" y2="101.4" stroke="#abadbf" stroke-width="1.25"/>
<text x="357.50" y="103.90" font-size="7.9" text-anchor="start" fill="#333" font-weight="normal" stroke="#333" stroke-width="0.18">RT</text>
<line x1="380.0" y1="101.5" x2="396.3" y2="101.5" stroke="#24506e" stroke-width="1.35"/>
<text x="400.10" y="103.90" font-size="7.9" text-anchor="start" fill="#333" font-weight="normal" stroke="#333" stroke-width="0.18">Systemic</text>
<line x1="338.0" y1="112.4" x2="353.6" y2="112.4" stroke="#66ab66" stroke-width="1.35"/>
<text x="357.50" y="114.90" font-size="7.9" text-anchor="start" fill="#333" font-weight="normal" stroke="#333" stroke-width="0.18">CMT</text>
<line x1="208.1" y1="264.75" x2="223.1" y2="264.75" stroke="#bdbdbd" stroke-width="1.2" stroke-dasharray="4 2.4"/>
<text x="226.50" y="267.80" font-size="8.4" text-anchor="start" fill="#333" font-weight="normal" stroke="#333" stroke-width="0.18" textLength="25.0" lengthAdjust="spacing">SD/PD</text>
<line x1="206.9" y1="276.25" x2="223.1" y2="276.25" stroke="#5aa862" stroke-width="1.35"/>
<text x="226.50" y="278.90" font-size="8.4" text-anchor="start" fill="#333" font-weight="normal" stroke="#333" stroke-width="0.18" textLength="25.3" lengthAdjust="spacing">CR/PR</text>
<line x1="460.6" y1="264.4" x2="476.9" y2="264.4" stroke="#bdbdbd" stroke-width="1.2" stroke-dasharray="4 2.4"/>
<text x="480.00" y="267.20" font-size="8.4" text-anchor="start" fill="#333" font-weight="normal" stroke="#333" stroke-width="0.18" textLength="24.8" lengthAdjust="spacing">SD/PD</text>
<line x1="460.0" y1="275.25" x2="476.9" y2="275.25" stroke="#5aa862" stroke-width="1.35"/>
<text x="480.00" y="278.10" font-size="8.4" text-anchor="start" fill="#333" font-weight="normal" stroke="#333" stroke-width="0.18" textLength="25.3" lengthAdjust="spacing">CR/PR</text>
<rect x="0.5" y="0.5" width="519" height="444" fill="none" stroke="#505050" stroke-width="1.1"/>
</svg>
</body></html>
